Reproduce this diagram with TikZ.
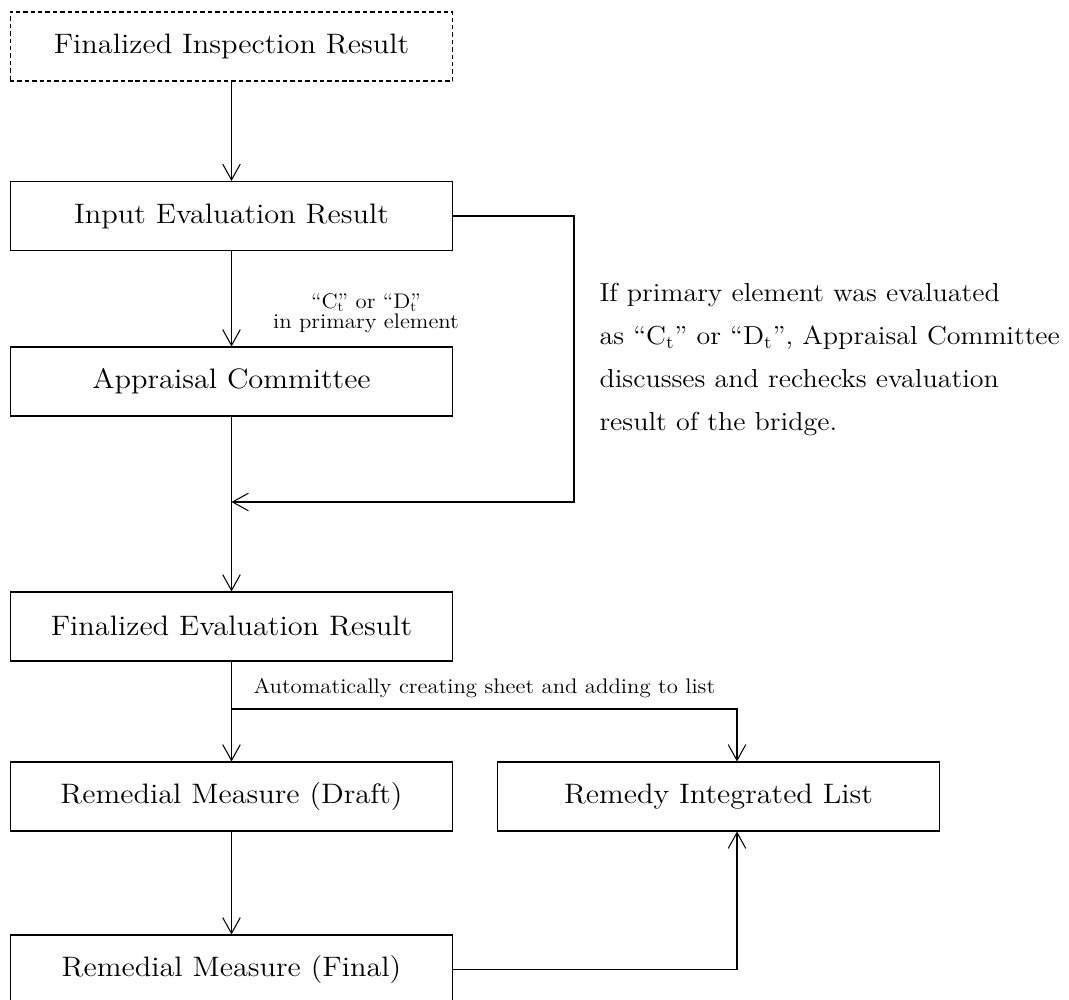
\documentclass[tikz,border=0pt]{standalone}
\usepackage{fontspec}
\setmainfont{lmroman12-regular.otf}[FakeStretch=1.08]
\usetikzlibrary{arrows.meta}
\begin{document}
\begin{tikzpicture}[x=0.02cm,y=-0.02cm,line width=0.6pt,
    >={Straight Barb[length=9pt,width=10pt]},
    stagebox/.style={draw,rectangle,minimum width=8.86cm,minimum height=1.38cm,
      inner sep=0pt,font=\fontsize{16}{19}\selectfont},
    softdash/.style={dash pattern=on 2.5pt off 1.7pt},
    smalllabel/.style={inner sep=0pt,font=\fontsize{12}{11.5}\selectfont}]
  \useasboundingbox (0,0) rectangle (1069,1000);
  \draw
    (231.5,46.5) node[stagebox,softdash] (insp){Finalized Inspection Result}
    (231.5,216) node[stagebox] (input){Input Evaluation Result}
    (231.5,381.5) node[stagebox] (appr){Appraisal Committee}
    (231.5,626.5) node[stagebox] (fineval){Finalized Evaluation Result}
    (231.5,796.5) node[stagebox] (draft){Remedial Measure (Draft)}
    (718.5,796.5) node[stagebox] (remedy){Remedy Integrated List}
    (231.5,969.5) node[stagebox] (final){Remedial Measure (Final)};
  \coordinate (turn) at (574,502);
  \coordinate (join) at (231.5,502);
  \coordinate (split) at (231.5,709);
  \node[smalllabel,align=center] (cond) at (366,313)
    {\textquotedblleft C\rlap{\textsubscript{t}}\textquotedblright{} or
     \textquotedblleft D\rlap{\textsubscript{t}}\textquotedblright\\ in primary element};
  \node[smalllabel,anchor=west] (auto) at (253,688)
    {Automatically creating sheet and adding to list};
  \node[inner sep=0pt,anchor=north west,align=left,
    font=\fontsize{14.8}{24.5}\selectfont] (note) at (599,283)
    {If primary element was evaluated\\
     as \textquotedblleft C\textsubscript{t}\textquotedblright{} or
     \textquotedblleft D\textsubscript{t}\textquotedblright, Appraisal Committee\\
     discusses and rechecks evaluation\\
     result of the bridge.};
  \begin{scope}[->]
    \draw (insp) to (input);
    \draw (input) to (appr);
    \draw (appr) to (fineval);
    \draw (input.east) -| (turn) -- (join);
    \draw (fineval) to (draft);
    \draw (split) -| ([xshift=0.37cm]remedy.north);
    \draw (draft) to (final);
    \draw (final.east) -| ([xshift=0.37cm]remedy.south);
  \end{scope}
\end{tikzpicture}
\end{document}
